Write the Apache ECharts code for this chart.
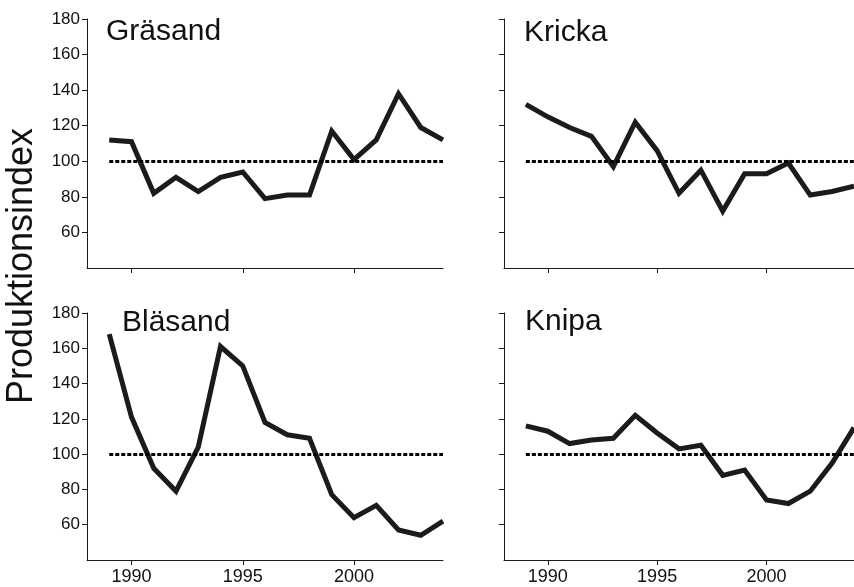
<!DOCTYPE html>
<html lang="sv">
<head>
<meta charset="utf-8">
<title>Produktionsindex</title>
<script src="https://cdn.jsdelivr.net/npm/echarts@6/dist/echarts.min.js"></script>
<style type="text/css">
html, body {
	margin: 0;
	padding: 0;
	background: #fff;
}
</style>
</head>
<body>
	<div id="main" style="width: 854px; height: 587px;"></div>

<script type="text/javascript">
	// data
	var years = [ 1989, 1990, 1991, 1992, 1993, 1994, 1995, 1996, 1997, 1998, 1999, 2000, 2001, 2002, 2003, 2004 ];
	var grasand = [ 112, 111, 82, 91, 83, 91, 94, 79, 81, 81, 117, 101, 112, 138, 119, 112 ];
	var kricka = [ 132, 125, 119, 114, 97, 122, 106, 82, 95, 72, 93, 93, 99, 81, 83, 86 ];
	var blasand = [ 168, 121, 92, 79, 104, 161, 150, 118, 111, 109, 77, 64, 71, 57, 54, 62 ];
	var knipa = [ 116, 113, 106, 108, 109, 122, 112, 103, 105, 88, 91, 74, 72, 79, 95, 115 ];
	var panelNames = [ 'Gräsand', 'Kricka', 'Bläsand', 'Knipa' ];
	var yTicks = [ 60, 80, 100, 120, 140, 160, 180 ];
	var xTicks = [ 1990, 1995, 2000 ];
	var refLevel = 100;
	var yTitle = 'Produktionsindex';

	var font = "'Liberation Sans', Arial, Helvetica, sans-serif";
	var ink = '#1b1b1b';

	// grid boxes: top-left, top-right, bottom-left, bottom-right
	var grids = [
		{ left : 87, top : 19, width : 356, height : 249 },
		{ left : 504, top : 19, width : 356, height : 249 },
		{ left : 87, top : 313, width : 356, height : 247 },
		{ left : 504, top : 313, width : 356, height : 247 }
	];
	var titlePos = [ [ 106, 17 ], [ 524, 18 ], [ 122, 308 ], [ 525, 307 ] ];
	var seriesData = [ grasand, kricka, blasand, knipa ];

	var xAxes = [], yAxes = [], series = [], titles = [];
	for (var i = 0; i < 4; i++) {
		var bottomRow = i >= 2;
		var leftCol = (i % 2) === 0;
		xAxes.push({
			type : 'value',
			gridIndex : i,
			min : 1988,
			max : 2004,
			splitLine : { show : false },
			axisLine : { lineStyle : { color : ink, width : 1 } },
			axisTick : { show : true, length : 5, customValues : xTicks, lineStyle : { color : ink } },
			axisLabel : {
				show : bottomRow,
				customValues : xTicks,
				formatter : function(v) { return String(v); },
				margin : 8,
				fontSize : 18,
				color : '#111',
				fontFamily : font
			}
		});
		yAxes.push({
			type : 'value',
			gridIndex : i,
			min : 40,
			max : 180,
			interval : 20,
			splitLine : { show : false },
			axisLine : { lineStyle : { color : ink, width : 1 } },
			axisTick : { show : true, length : 5, customValues : yTicks, lineStyle : { color : ink } },
			axisLabel : {
				show : leftCol,
				customValues : yTicks,
				margin : 7,
				fontSize : 17,
				color : '#111',
				fontFamily : font
			}
		});
		var pts = [];
		for (var k = 0; k < years.length; k++) {
			pts.push([ years[k], seriesData[i][k] ]);
		}
		series.push({
			type : 'line',
			name : panelNames[i],
			xAxisIndex : i,
			yAxisIndex : i,
			data : pts,
			symbol : 'none',
			animation : false,
			lineStyle : { color : ink, width : 5, join : 'miter' },
			markLine : {
				silent : true,
				symbol : 'none',
				label : { show : false },
				lineStyle : { color : '#000', width : 3, type : [ 4, 2 ] },
				data : [ [ { coord : [ years[0], refLevel ] }, { coord : [ years[years.length - 1], refLevel ] } ] ]
			}
		});
		titles.push({
			text : panelNames[i],
			left : titlePos[i][0],
			top : titlePos[i][1],
			padding : 0,
			textStyle : { fontSize : 30, fontWeight : 'normal', color : '#111', fontFamily : font }
		});
	}

	var myChart = echarts.init(document.getElementById('main'), null, { renderer : 'canvas' });
	var option = {
		backgroundColor : '#fff',
		animation : false,
		title : titles,
		grid : grids,
		xAxis : xAxes,
		yAxis : yAxes,
		series : series,
		graphic : [ {
			type : 'text',
			x : 22,
			y : 266,
			rotation : Math.PI / 2,
			style : {
				text : yTitle,
				fontSize : 36,
				fontFamily : font,
				fill : '#111',
				align : 'center',
				verticalAlign : 'middle'
			}
		} ]
	};
	myChart.setOption(option);
</script>
</body>
</html>
